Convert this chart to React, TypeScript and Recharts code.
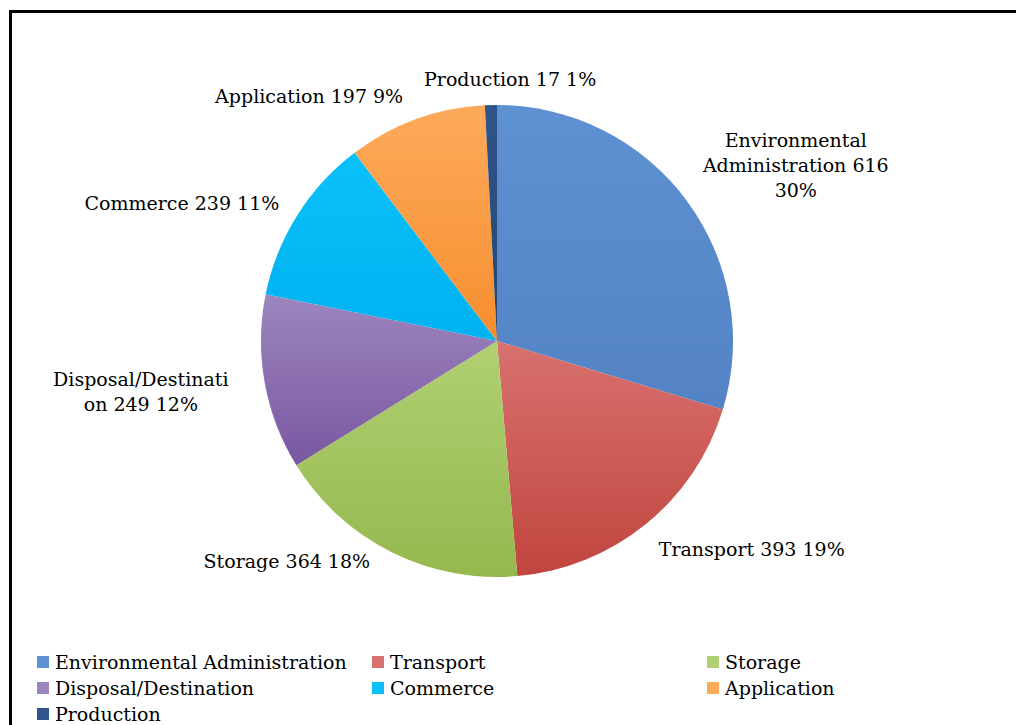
import { PieChart, Pie, Cell, Legend } from 'recharts';

const categories = [
  'Environmental Administration',
  'Transport',
  'Storage',
  'Disposal/Destination',
  'Commerce',
  'Application',
  'Production',
];
const counts = [616, 393, 364, 249, 239, 197, 17];
const percents = ['30%', '19%', '18%', '12%', '11%', '9%', '1%'];

// label text as it wraps in the original
const labelLines = [
  ['Environmental', 'Administration 616', '30%'],
  ['Transport 393 19%'],
  ['Storage 364 18%'],
  ['Disposal/Destinati', 'on 249 12%'],
  ['Commerce 239 11%'],
  ['Application 197 9%'],
  ['Production 17 1%'],
];

// slice colours: top / bottom of the gradient
const colorsTop = ['#5E91D2', '#D8716E', '#B0D073', '#9D86BF', '#0AC0FA', '#FDAA5C', '#31558A'];
const colorsBottom = ['#5383C5', '#C1453F', '#95B84E', '#7957A0', '#00B2F0', '#F68E2E', '#25446F'];

// nudge of each label centre away from the point at outerRadius + 70
const labelNudge = [
  [53, 6],
  [62, -30],
  [-73, -54],
  [-55, -4],
  [-56, 25],
  [-83, 42],
  [21, 44],
];

const data = categories.map((name, i) => ({ name, value: counts[i], pct: percents[i] }));

const FONT = '"DejaVu Serif", Georgia, serif';
const RAD = Math.PI / 180;

function renderLabel(props: any) {
  const { cx, cy, midAngle, outerRadius, index } = props;
  const r = outerRadius + 70;
  const x = cx + r * Math.cos(-midAngle * RAD) + labelNudge[index][0];
  const y = cy + r * Math.sin(-midAngle * RAD) + labelNudge[index][1];
  const lines = labelLines[index];
  const lh = 25;
  const y0 = y - ((lines.length - 1) * lh) / 2;
  return (
    <text
      x={x}
      y={y0}
      textAnchor="middle"
      dominantBaseline="central"
      fill="#000"
      fontSize={19}
      fontFamily={FONT}
    >
      {lines.map((l, k) => (
        <tspan key={k} x={x} dy={k === 0 ? 0 : lh}>
          {l}
        </tspan>
      ))}
    </text>
  );
}

function renderLegend() {
  return (
    <div
      style={{
        display: 'grid',
        gridTemplateColumns: '335px 335px 300px',
        rowGap: 0,
        fontFamily: FONT,
        fontSize: 19,
        color: '#000',
      }}
    >
      {categories.map((c, i) => (
        <div key={c} style={{ display: 'flex', alignItems: 'center', height: 26 }}>
          <span
            style={{
              display: 'inline-block',
              width: 12,
              height: 12,
              marginRight: 6,
              background: colorsTop[i],
            }}
          />
          <span>{c}</span>
        </div>
      ))}
    </div>
  );
}

export default function App() {
  return (
    <div
      style={{
        position: 'absolute',
        left: 9,
        top: 10,
        width: 1007,
        height: 715,
        boxSizing: 'border-box',
        borderTop: '3px solid #000',
        borderLeft: '3px solid #000',
        background: '#fff',
        overflow: 'hidden',
      }}
    >
      <PieChart width={1004} height={712} margin={{ top: 0, right: 0, bottom: 0, left: 0 }}>
        <defs>
          {categories.map((c, i) => (
            <linearGradient key={c} id={`grad${i}`} x1="0" y1="0" x2="0" y2="1">
              <stop offset="0%" stopColor={colorsTop[i]} />
              <stop offset="100%" stopColor={colorsBottom[i]} />
            </linearGradient>
          ))}
        </defs>
        <Pie
          data={data}
          dataKey="value"
          nameKey="name"
          cx={485}
          cy={328}
          outerRadius={236}
          startAngle={90}
          endAngle={-270}
          stroke="none"
          label={renderLabel}
          labelLine={false}
          isAnimationActive={false}
        >
          {data.map((d, i) => (
            <Cell key={d.name} fill={`url(#grad${i})`} />
          ))}
        </Pie>
        <Legend
          content={renderLegend}
          layout="horizontal"
          verticalAlign="bottom"
          wrapperStyle={{ top: 636, bottom: 'auto', left: 25, width: 980 }}
        />
      </PieChart>
    </div>
  );
}
